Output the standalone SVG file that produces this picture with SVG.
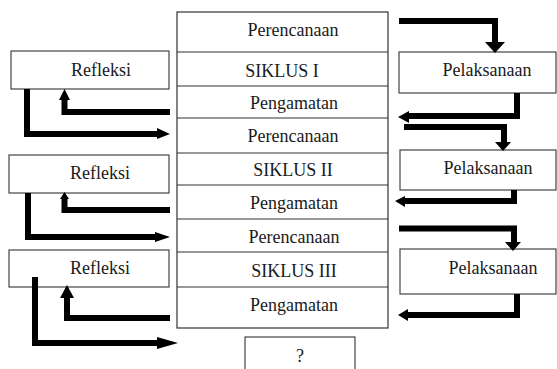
<svg xmlns="http://www.w3.org/2000/svg" width="557" height="369" viewBox="0 0 557 369">
<style>
.box{fill:#fff;stroke:#444;stroke-width:1.2}
.col{fill:#fff;stroke:#333;stroke-width:1.2}
.t{font-family:"Liberation Serif","Times New Roman",serif;font-size:18px;fill:#1a1a1a;text-anchor:middle}
.ln{fill:none;stroke:#000;stroke-width:6;stroke-linejoin:miter;stroke-linecap:butt}
.hd{fill:#000}
</style>
<rect width="557" height="369" fill="#fff"/>
<g id="column">
<rect class="col" x="177" y="12" width="211" height="316"/>
<g id="perencanaan1"><line class="col" x1="177" y1="52" x2="388" y2="52"/><text class="t" x="293" y="36">Perencanaan</text></g>
<g id="siklus1"><line class="col" x1="177" y1="86" x2="388" y2="86"/><text class="t" x="282" y="77">SIKLUS I</text></g>
<g id="pengamatan1"><line class="col" x1="177" y1="118" x2="388" y2="118"/><text class="t" x="294" y="109">Pengamatan</text></g>
<g id="perencanaan2"><line class="col" x1="177" y1="153" x2="388" y2="153"/><text class="t" x="293" y="142">Perencanaan</text></g>
<g id="siklus2"><line class="col" x1="177" y1="185" x2="388" y2="185"/><text class="t" x="293" y="176">SIKLUS II</text></g>
<g id="pengamatan2"><line class="col" x1="177" y1="219" x2="388" y2="219"/><text class="t" x="294" y="209">Pengamatan</text></g>
<g id="perencanaan3"><line class="col" x1="177" y1="252" x2="388" y2="252"/><text class="t" x="294" y="243">Perencanaan</text></g>
<g id="siklus3"><line class="col" x1="177" y1="287" x2="388" y2="287"/><text class="t" x="294" y="277">SIKLUS III</text></g>
<g id="pengamatan3"><text class="t" x="294" y="311">Pengamatan</text></g>
</g>
<g id="refleksi1"><rect class="box" x="11" y="51" width="158" height="38"/><text class="t" x="101" y="76">Refleksi</text></g>
<g id="refleksi2"><rect class="box" x="9" y="155" width="160" height="38"/><text class="t" x="100" y="179">Refleksi</text></g>
<g id="refleksi3"><rect class="box" x="9" y="250" width="160" height="37"/><text class="t" x="100" y="274">Refleksi</text></g>
<g id="pelaksanaan1"><rect class="box" x="399" y="52" width="157" height="41"/><text class="t" x="487" y="76">Pelaksanaan</text></g>
<g id="pelaksanaan2"><rect class="box" x="400" y="150" width="156" height="40"/><text class="t" x="488" y="174">Pelaksanaan</text></g>
<g id="pelaksanaan3"><rect class="box" x="400" y="249" width="156" height="45"/><text class="t" x="493" y="274">Pelaksanaan</text></g>
<g id="question"><rect class="box" x="245" y="337" width="110" height="40"/><text class="t" x="300" y="362">?</text></g>
<g id="connectors">
<!-- right side -->
<polyline class="ln" points="399,21 495,21 495,43"/>
<polygon class="hd" points="485,42 505,42 495,53"/>
<polyline class="ln" points="517,93 517,116 408,116"/>
<polygon class="hd" points="409,111 409,123 398,117"/>
<polyline class="ln" points="404,127 504,127 504,143"/>
<polygon class="hd" points="495,142 511,142 503,151"/>
<polyline class="ln" points="514,190 514,201 404,201"/>
<polygon class="hd" points="405,196 405,207 395,201"/>
<polyline class="ln" points="399,228.5 514,228.5 514,243"/>
<polygon class="hd" points="505,242 521,242 513,251"/>
<polyline class="ln" points="517,294 517,315 407,315"/>
<polygon class="hd" points="408,309 408,321 398,315"/>
<!-- left side -->
<polyline class="ln" points="170,112 64.5,112 64.5,99"/>
<polygon class="hd" points="59,100 70,100 64.5,89"/>
<polyline class="ln" points="27,89 27,134 158,134"/>
<polygon class="hd" points="157,128 157,139 170,134"/>
<polyline class="ln" points="170,210 64.5,210 64.5,198"/>
<polygon class="hd" points="60,199 69,199 64.5,192"/>
<polyline class="ln" points="28,193 28,237 156,237"/>
<polygon class="hd" points="155,232 155,242 170,237"/>
<polyline class="ln" points="170,318 67,318 67,297"/>
<polygon class="hd" points="60,298 74,298 67,285"/>
<polyline class="ln" points="35,277 35,343 158,343"/>
<polygon class="hd" points="157,337 157,349 178,343"/>
</g>
</svg>
